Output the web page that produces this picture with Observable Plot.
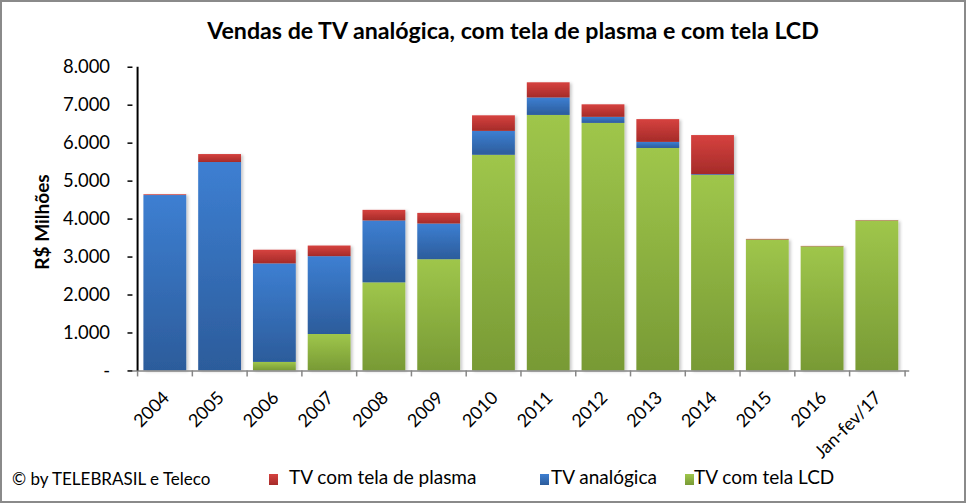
<!DOCTYPE html>
<html><head><meta charset="utf-8">
<script src="https://cdn.jsdelivr.net/npm/d3@7"></script>
<script src="https://cdn.jsdelivr.net/npm/@observablehq/plot@0.6"></script>
<style>
body{margin:0;background:#fff;}
#chart{position:relative;width:966px;height:503px;box-sizing:border-box;border:2px solid #8a8a8a;font-family:Lato,"Open Sans",sans-serif;overflow:hidden;background:#fff;}
#chart svg{position:absolute;left:-2px;top:-2px;}
.abs{position:absolute;white-space:nowrap;line-height:1;color:#000;}
#title{font-weight:bold;font-size:23.2px;top:17px;left:511px;transform:translateX(-50%);}
#ylabel{font-weight:bold;font-size:19px;left:39px;top:220px;transform:translate(-50%,-50%) rotate(-90deg);}
.sw{position:absolute;width:9px;height:11px;}
.lg{font-size:19px;}
</style></head>
<body><div id="chart"></div>
<script>
const categories = ["2004","2005","2006","2007","2008","2009","2010","2011","2012","2013","2014","2015","2016","Jan-fev/17"];
const lcdValues    = [0,0,225,960,2320,2930,5680,6730,6520,5860,5150,3450,3270,3950];
const analogValues = [4620,5490,2595,2050,1630,940,630,460,160,160,20,0,0,0];
const plasmaValues = [20,210,360,280,280,280,410,400,330,600,1030,15,10,10];
const seriesNames = ["TV com tela LCD","TV analógica","TV com tela de plasma"];
const legendOrder = ["TV com tela de plasma","TV analógica","TV com tela LCD"];
const yTicks = [0,1000,2000,3000,4000,5000,6000,7000,8000];
const yTickLabels = ["-","1.000","2.000","3.000","4.000","5.000","6.000","7.000","8.000"];
const titleText = "Vendas de TV analógica, com tela de plasma e com tela LCD";
const yLabelText = "R$ Milhões";
const creditText = "© by TELEBRASIL  e Teleco";

const seriesValues = {"TV com tela LCD": lcdValues, "TV analógica": analogValues, "TV com tela de plasma": plasmaValues};
const gradStops = {
  "TV com tela LCD": ["#9fc64b", "#789a35"],
  "TV analógica": ["#3d7fd2", "#2c5c9b"],
  "TV com tela de plasma": ["#d6423f", "#a52b29"]
};
const gradId = {"TV com tela LCD": "gLCD", "TV analógica": "gAna", "TV com tela de plasma": "gPla"};

const rows = [];
seriesNames.forEach(s => categories.forEach((c, i) => rows.push({cat: c, series: s, value: seriesValues[s][i]})));

const W = 966, H = 503, ml = 133, mr = 53, mt = 67, mb = 131;
const step = (W - ml - mr) / categories.length;

const chart = Plot.plot({
  width: W, height: H, marginLeft: ml, marginRight: mr, marginTop: mt, marginBottom: mb,
  style: {fontFamily: "Lato, 'Open Sans', sans-serif", background: "transparent", color: "#000"},
  x: {domain: categories, paddingInner: 0.22, paddingOuter: 0.11, axis: null},
  y: {domain: [0, 8000], axis: null},
  color: {domain: seriesNames, range: seriesNames.map(s => `url(#${gradId[s]})`)},
  marks: [
    Plot.barY(rows, {x: "cat", y: "value", fill: "series", order: seriesNames}),
    Plot.ruleY([0], {stroke: "#868686", strokeWidth: 1.5}),
    Plot.axisX({tickSize: 6, stroke: "#868686", strokeWidth: 1.5, tickFormat: () => "", dx: -step / 2, label: null}),
    Plot.axisX({ticks: [categories[categories.length - 1]], tickSize: 6, stroke: "#868686", strokeWidth: 1.5, tickFormat: () => "", dx: step / 2, label: null}),
    Plot.axisX({tickSize: 0, tickRotate: -45, tickPadding: 24, dx: 1, fontSize: 18, fill: "#000", label: null}),
    Plot.axisY({ticks: yTicks, tickFormat: d => yTickLabels[yTicks.indexOf(d)], tickSize: 5, tickPadding: 18, stroke: "#000", strokeWidth: 1.5, fontSize: 18.5, fill: "#000", label: null}),
    Plot.ruleX([categories[0]], {y1: 0, y2: 8000, dx: -step / 2, stroke: "#000", strokeWidth: 2})
  ]
});

const defs = d3.select(chart).insert("defs", ":first-child");
seriesNames.forEach(s => {
  const g = defs.append("linearGradient").attr("id", gradId[s]).attr("x1", 0).attr("y1", 0).attr("x2", 0).attr("y2", 1);
  g.append("stop").attr("offset", "0%").attr("stop-color", gradStops[s][0]);
  g.append("stop").attr("offset", "100%").attr("stop-color", gradStops[s][1]);
});
const f = defs.append("filter").attr("id", "shadow").attr("x", "-10%").attr("y", "-10%").attr("width", "130%").attr("height", "130%");
f.append("feDropShadow").attr("dx", 2).attr("dy", 1).attr("stdDeviation", 1.5).attr("flood-color", "#000").attr("flood-opacity", 0.22);
const barG = chart.querySelector('g[aria-label="bar"]');
if (barG) barG.setAttribute("filter", "url(#shadow)");

const root = document.getElementById("chart");
root.appendChild(chart);

function addDiv(cls, id, text, styles) {
  const d = document.createElement("div");
  d.className = cls; if (id) d.id = id; d.textContent = text;
  Object.assign(d.style, styles || {});
  root.appendChild(d); return d;
}
addDiv("abs", "title", titleText);
addDiv("abs", "ylabel", yLabelText);
addDiv("abs lg", null, creditText, {left: "10px", top: "468px", fontSize: "17px"});

const legendPos = {"TV com tela de plasma": [269, 289], "TV analógica": [540, 551], "TV com tela LCD": [685, 694]};
legendOrder.forEach(s => {
  const sw = document.createElement("div");
  sw.className = "sw";
  sw.style.left = (legendPos[s][0] - 2) + "px";
  sw.style.top = (474 - 2) + "px";
  sw.style.background = `linear-gradient(${gradStops[s][0]}, ${gradStops[s][1]})`;
  root.appendChild(sw);
  addDiv("abs lg", null, s, {left: (legendPos[s][1] - 2) + "px", top: (467 - 2) + "px"});
});
</script></body></html>
